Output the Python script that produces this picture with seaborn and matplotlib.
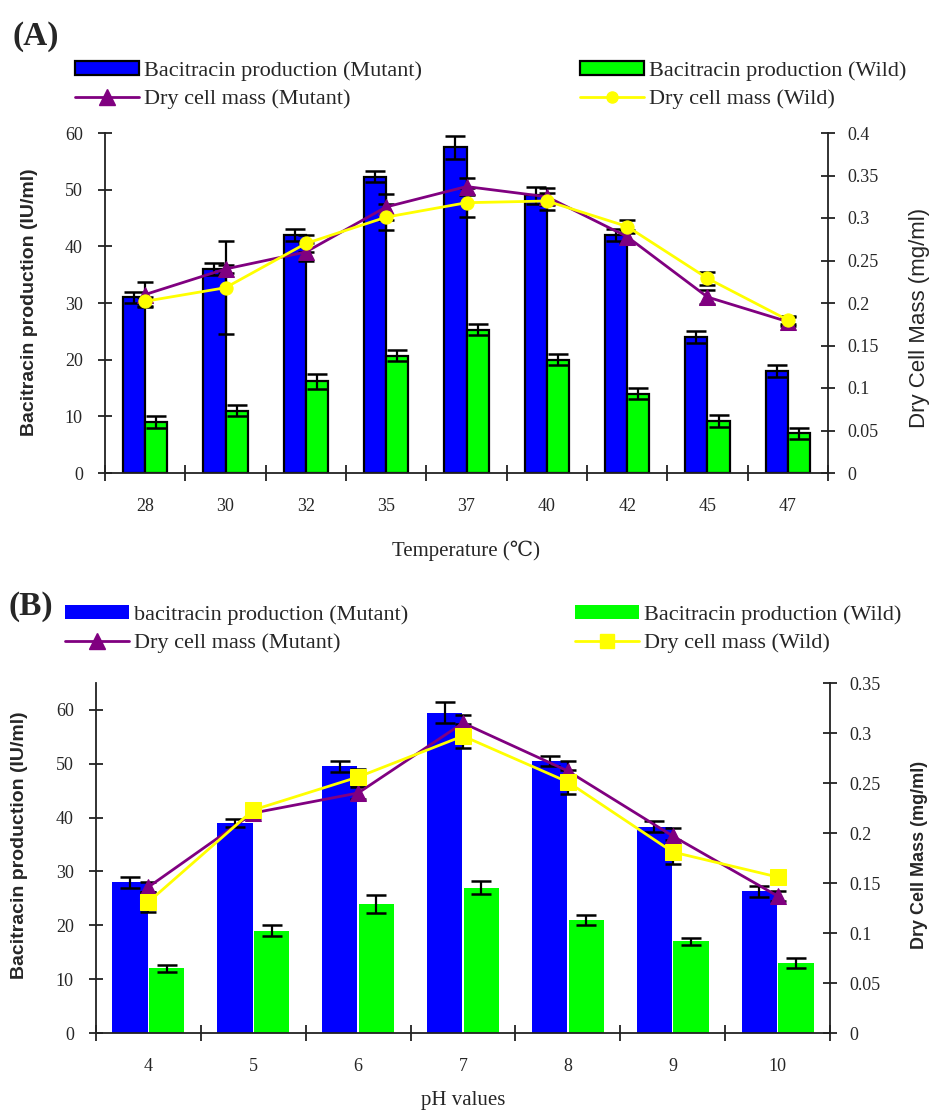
import numpy as np
import pandas as pd
import matplotlib
matplotlib.use("Agg")
import matplotlib.pyplot as plt
import seaborn as sns
from matplotlib.lines import Line2D
from matplotlib.patches import Patch

# ---------------- data: panel A (temperature) ----------------
temps = ["28", "30", "32", "35", "37", "40", "42", "45", "47"]
bac_mut_A = [31, 36, 42, 52.3, 57.5, 49, 42, 24, 18]
bac_mut_A_err = [1, 1, 1, 1, 2, 1.5, 1, 1, 1]
bac_wild_A = [9, 11, 16.2, 20.7, 25.3, 20, 14, 9.2, 7]
bac_wild_A_err = [1, 1, 1.3, 1, 1, 1, 1, 1, 1]
dcm_mut_A = [0.21, 0.24, 0.26, 0.313, 0.337, 0.325, 0.278, 0.207, 0.178]
dcm_mut_A_err = [0.015, 0.005, 0.01, 0.015, 0.01, 0.01, 0.008, 0.008, 0.005]
dcm_wild_A = [0.202, 0.218, 0.27, 0.301, 0.318, 0.32, 0.29, 0.229, 0.18]
dcm_wild_A_err = [0.005, 0.055, 0.01, 0.015, 0.017, 0.01, 0.008, 0.008, 0.005]

# ---------------- data: panel B (pH) ----------------
ph_vals = ["4", "5", "6", "7", "8", "9", "10"]
bac_mut_B = [28, 39, 49.5, 59.5, 50.5, 38.3, 26.3]
bac_mut_B_err = [1, 0.8, 1, 2, 1, 1, 1]
bac_wild_B = [12, 19, 24, 27, 21, 17, 13]
bac_wild_B_err = [0.7, 1, 1.7, 1.2, 1, 0.7, 1]
dcm_mut_B = [0.146, 0.22, 0.24, 0.31, 0.262, 0.197, 0.137]
dcm_mut_B_err = [0.005, 0.005, 0.006, 0.008, 0.01, 0.008, 0.005]
dcm_wild_B = [0.131, 0.223, 0.256, 0.297, 0.251, 0.181, 0.156]
dcm_wild_B_err = [0.01, 0.006, 0.008, 0.012, 0.012, 0.012, 0.005]

left_ticks = [0, 10, 20, 30, 40, 50, 60]
right_ticks_A = [0, 0.05, 0.1, 0.15, 0.2, 0.25, 0.3, 0.35, 0.4]
right_ticks_B = [0, 0.05, 0.1, 0.15, 0.2, 0.25, 0.3, 0.35]

BLUE, GREEN, PURPLE, YELLOW = "#0000FF", "#00FF00", "#800080", "#FFFF00"

sns.set_style("ticks")
plt.rcParams["font.family"] = ["Liberation Serif", "DejaVu Serif"]
SANS = ["Liberation Sans Narrow", "Liberation Sans", "DejaVu Sans"]

W, H = 932, 1113
fig = plt.figure(figsize=(W / 100, H / 100), dpi=100)


def rect(l, t, r, b):
    return [l / W, 1 - b / H, (r - l) / W, (b - t) / H]


def panel(ax, cats, mut, mut_err, wild, wild_err, dm, dm_err, dw, dw_err,
          ylim_l, ylim_r, rticks, width, gap, edge, wild_marker, wild_ms):
    n = len(cats)
    df = pd.DataFrame({"cat": cats * 2, "val": mut + wild,
                       "grp": ["Mutant"] * n + ["Wild"] * n})
    sns.barplot(data=df, x="cat", y="val", hue="grp", palette=[BLUE, GREEN],
                width=width, gap=gap, saturation=1, errorbar=None,
                edgecolor="black" if edge else "none",
                linewidth=1.6 if edge else 0, legend=False, ax=ax, zorder=2)
    bars = list(ax.patches)
    xs = [p.get_x() + p.get_width() / 2 for p in bars]
    hs = [p.get_height() for p in bars]
    ax.errorbar(xs, hs, yerr=mut_err + wild_err, fmt="none", ecolor="black",
                elinewidth=1.6, capsize=7, capthick=1.8, zorder=3)
    ax.set_ylim(*ylim_l)
    ax.set_yticks(left_ticks)
    ax.set_xlim(-0.5, n - 0.5)
    ax.set_xlabel("")
    ax.set_ylabel("")
    ax.set_xticks(np.arange(n + 1) - 0.5, minor=True)
    ax.tick_params(axis="x", which="major", length=0, pad=18, labelsize=13)
    ax.tick_params(axis="x", which="minor", direction="inout", length=12,
                   width=1.3, bottom=True, color="#222222")
    ax.tick_params(axis="y", direction="inout", length=10, width=1.3,
                   pad=11, labelsize=13, left=True, color="#222222")
    for s in ["top", "right"]:
        ax.spines[s].set_visible(False)
    for s in ["left", "bottom"]:
        ax.spines[s].set_linewidth(1.3)
        ax.spines[s].set_color("#222222")

    ax2 = ax.twinx()
    pos = np.arange(n)
    ax2.errorbar(pos, dm, yerr=dm_err, fmt="none", ecolor="black",
                 elinewidth=1.6, capsize=6, capthick=1.8, zorder=3)
    ax2.errorbar(pos, dw, yerr=dw_err, fmt="none", ecolor="black",
                 elinewidth=1.6, capsize=6, capthick=1.8, zorder=3)
    sns.lineplot(x=pos, y=dm, color=PURPLE, marker="^", markersize=11,
                 markeredgecolor=PURPLE, linewidth=2, ax=ax2, zorder=4)
    sns.lineplot(x=pos, y=dw, color=YELLOW, marker=wild_marker,
                 markersize=wild_ms, markeredgecolor=YELLOW, linewidth=2,
                 ax=ax2, zorder=5)
    ax2.set_ylim(*ylim_r)
    ax2.set_yticks(rticks)
    ax2.set_yticklabels([f"{t:g}" for t in rticks])
    ax2.set_xlim(-0.5, n - 0.5)
    ax2.set_ylabel("")
    ax2.tick_params(axis="y", direction="inout", length=10, width=1.3,
                    pad=9, labelsize=13, right=True, color="#222222")
    for s in ["top", "left", "bottom"]:
        ax2.spines[s].set_visible(False)
    ax2.spines["right"].set_linewidth(1.3)
    ax2.spines["right"].set_color("#222222")
    return ax2


axA = fig.add_axes(rect(105, 133, 828, 473))
panel(axA, temps, bac_mut_A, bac_mut_A_err, bac_wild_A, bac_wild_A_err,
      dcm_mut_A, dcm_mut_A_err, dcm_wild_A, dcm_wild_A_err,
      (0, 60), (0, 0.4), right_ticks_A, 0.55, 0, True, "o", 9.5)

axB = fig.add_axes(rect(96, 683, 830, 1033))
panel(axB, ph_vals, bac_mut_B, bac_mut_B_err, bac_wild_B, bac_wild_B_err,
      dcm_mut_B, dcm_mut_B_err, dcm_wild_B, dcm_wild_B_err,
      (0, 65), (0, 0.35), right_ticks_B, 0.7, 0.04, False, "s", 11)

# ---------------- legends ----------------
def add_legend(handles, labels, x, y):
    fig.legend(handles, labels, loc="upper left",
               bbox_to_anchor=(x / W, 1 - y / H), frameon=False,
               borderaxespad=0, borderpad=0, fontsize=16, handlelength=2.9,
               handleheight=0.6, handletextpad=0.2, labelspacing=0.38)

pA_mut = Patch(facecolor=BLUE, edgecolor="black", linewidth=1.6)
pA_wild = Patch(facecolor=GREEN, edgecolor="black", linewidth=1.6)
lA_mut = Line2D([], [], color=PURPLE, lw=2, marker="^", ms=11)
lA_wild = Line2D([], [], color=YELLOW, lw=2, marker="o", ms=8)
add_legend([pA_mut, lA_mut],
           ["Bacitracin production (Mutant)", "Dry cell mass (Mutant)"], 75, 61)
add_legend([pA_wild, lA_wild],
           ["Bacitracin production (Wild)", "Dry cell mass (Wild)"], 580, 61)

pB_mut = Patch(facecolor=BLUE, edgecolor="none")
pB_wild = Patch(facecolor=GREEN, edgecolor="none")
lB_mut = Line2D([], [], color=PURPLE, lw=2, marker="^", ms=11)
lB_wild = Line2D([], [], color=YELLOW, lw=2, marker="s", ms=10)
add_legend([pB_mut, lB_mut],
           ["bacitracin production (Mutant)", "Dry cell mass (Mutant)"], 65, 605)
add_legend([pB_wild, lB_wild],
           ["Bacitracin production (Wild)", "Dry cell mass (Wild)"], 575, 605)

# ---------------- panel letters & axis titles ----------------
fig.text(12 / W, 1 - 37 / H, "(A)", fontsize=24, fontweight="bold",
         va="center", ha="left")
fig.text(8 / W, 1 - 607 / H, "(B)", fontsize=24, fontweight="bold",
         va="center", ha="left")

fig.text(466 / W, 1 - 551 / H, "Temperature (℃)", fontsize=15,
         ha="center", va="center")
fig.text(463 / W, 1 - 1101 / H, "pH values", fontsize=15,
         ha="center", va="center")

fig.text(30 / W, 1 - 302 / H, "Bacitracin production (IU/ml)", rotation=90,
         family=SANS, fontweight="bold", fontsize=14, ha="center", va="center")
fig.text(920 / W, 1 - 318 / H, "Dry Cell Mass (mg/ml)", rotation=90,
         family=SANS, fontsize=16, ha="center", va="center")
fig.text(20 / W, 1 - 845 / H, "Bacitracin production (IU/ml)", rotation=90,
         family=SANS, fontweight="bold", fontsize=14, ha="center", va="center")
fig.text(920 / W, 1 - 855 / H, "Dry Cell Mass (mg/ml)", rotation=90,
         family=SANS, fontweight="bold", fontsize=13, ha="center", va="center")

fig.savefig("out.png", dpi=100)
